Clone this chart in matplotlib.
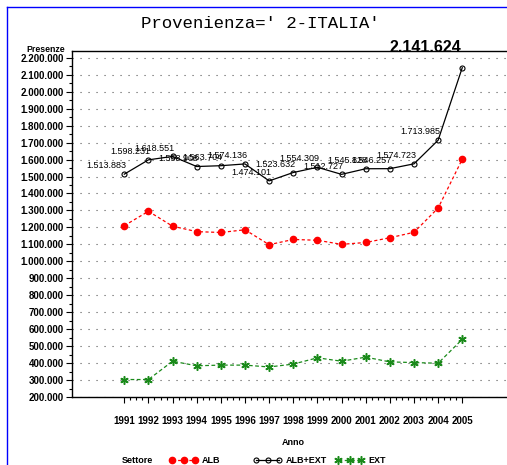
import numpy as np
import matplotlib as mpl
mpl.use('Agg')
import matplotlib.pyplot as plt
from matplotlib.lines import Line2D
from matplotlib.ticker import MultipleLocator, FuncFormatter

years = [1991, 1992, 1993, 1994, 1995, 1996, 1997, 1998,
         1999, 2000, 2001, 2002, 2003, 2004, 2005]
alb_ext = [1513883, 1598231, 1618551, 1558908, 1563704, 1574136, 1474101, 1523632,
           1554309, 1512727, 1545828, 1546257, 1574723, 1713985, 2141624]
alb = [1210000, 1295000, 1207000, 1175000, 1170000, 1186000, 1098000, 1129000,
       1124000, 1100000, 1111000, 1139000, 1171000, 1314000, 1602000]
ext = [303000, 303000, 411000, 384000, 388000, 388000, 377000, 394000,
       431000, 411000, 435000, 407000, 403000, 399000, 540000]

RED = '#ff0000'
GREEN = '#1a8a1a'
SANS = 'Liberation Sans'
MONO = 'Liberation Mono'

W, H = 507, 465
fig = plt.figure(figsize=(W / 100, H / 100), dpi=100)
ax = fig.add_axes([72 / W, 1 - 397 / H, (W - 72) / W, (397 - 51) / H])

ax.plot(years, alb, color=RED, lw=0.9, ls=(0, (2.5, 2)), marker='o', ms=4.5,
        mfc=RED, mec=RED, zorder=3)
ax.plot(years, alb_ext, color='black', lw=0.9, ls='-', marker='o', ms=3.6,
        mfc='none', mec='black', mew=0.8, zorder=3)
ax.plot(years, ext, color=GREEN, lw=0.9, ls=(0, (3, 2)), marker=(6, 2, 0), ms=6,
        mec=GREEN, mew=1.1, zorder=3)

def dots(v):
    s = '{:,}'.format(int(v))
    return s.replace(',', '.')

for x, v in zip(years[:-1], alb_ext[:-1]):
    ax.annotate(dots(v), (x, v), xytext=(1.5, 4.2), textcoords='offset points',
                ha='right', va='baseline', fontsize=6.5, family=SANS)
ax.annotate(dots(alb_ext[-1]), (years[-1], alb_ext[-1]), xytext=(-1, 11.5),
            textcoords='offset points', ha='right', va='baseline', fontsize=11.5,
            family=SANS, fontweight='bold', annotation_clip=False)

px_per_year = 24.14
x0 = 1991 - (124.3 - 72) / px_per_year
ax.set_xlim(x0, x0 + (W - 72) / px_per_year)
ax.set_ylim(200000, 2240000)

ax.set_xticks(years)
ax.set_xticks(np.arange(1991, 2005.01, 0.25), minor=True)
ax.yaxis.set_major_locator(MultipleLocator(100000))
ax.yaxis.set_minor_locator(MultipleLocator(50000))
ax.yaxis.set_major_formatter(FuncFormatter(lambda v, p: dots(v)))

ax.tick_params(axis='both', which='major', direction='out', length=4.5, width=0.8,
               color='black')
ax.tick_params(axis='both', which='minor', direction='out', length=2.5, width=0.8)
ax.tick_params(axis='x', pad=9)
ax.tick_params(axis='y', pad=1.5)
for lab in ax.get_xticklabels():
    lab.set_fontsize(7)
    lab.set_family(SANS)
    lab.set_fontweight('bold')
for lab in ax.get_yticklabels():
    lab.set_fontsize(7)
    lab.set_family(SANS)
    lab.set_fontweight('bold')

ax.grid(axis='y', which='major', color='#555555', lw=0.8, ls=(0, (1, 6.2)))
ax.spines['right'].set_visible(False)
for s in ['left', 'top', 'bottom']:
    ax.spines[s].set_linewidth(1.0)

fig.text(260 / W, 1 - 24 / H, "Provenienza=' 2-ITALIA'", ha='center', va='center',
         fontsize=12.5, family=MONO)
fig.text(46 / W, 1 - 49.5 / H, 'Presenze', ha='center', va='center', fontsize=6.3,
         family=SANS, fontweight='bold')
fig.text(293 / W, 1 - 442 / H, 'Anno', ha='center', va='center', fontsize=6.5,
         family=SANS, fontweight='bold')

# legend
ly = 1 - 460 / H
fig.text(137 / W, ly, 'Settore', ha='center', va='center', fontsize=6.5,
         family=SANS, fontweight='bold')
entries = [
    (170, 'ALB', dict(color=RED, ls=(0, (2.5, 2)), marker='o', ms=4.5, mfc=RED, mec=RED)),
    (254, 'ALB+EXT', dict(color='black', ls='-', marker='o', ms=3.6, mfc='none', mec='black', mew=0.8)),
    (336, 'EXT', dict(color=GREEN, ls=(0, (3, 2)), marker=(6, 2, 0), ms=6, mec=GREEN, mew=1.1)),
]
for xs, name, st in entries:
    xx = np.array([xs + 2, xs + 13.5, xs + 25]) / W
    fig.add_artist(Line2D(xx, [ly] * 3, lw=0.9, transform=fig.transFigure, **st))
    fig.text((xs + 32) / W, ly, name, ha='left', va='center', fontsize=6.5,
             family=SANS, fontweight='bold')

# blue frame
fig.add_artist(Line2D([7 / W, 7 / W], [0, 1 - 7 / H], color='#0000ff', lw=1,
                      transform=fig.transFigure))
fig.add_artist(Line2D([7 / W, 1], [1 - 7 / H, 1 - 7 / H], color='#0000ff', lw=1,
                      transform=fig.transFigure))

fig.savefig('out.png', dpi=100)
